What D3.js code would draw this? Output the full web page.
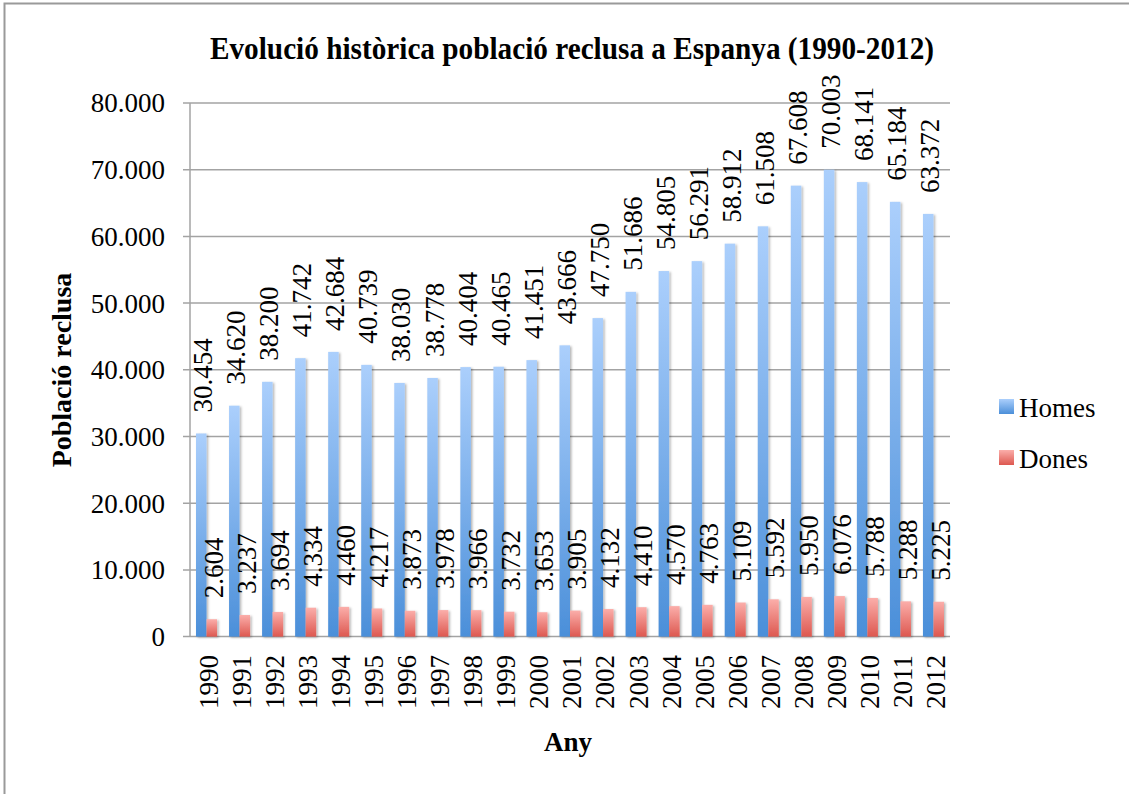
<!DOCTYPE html>
<html>
<head>
<meta charset="utf-8">
<script src="https://cdn.jsdelivr.net/npm/d3@7"></script>
<style>
  body { margin: 0; background: #fff; }
  svg { display: block; }
  text { font-family: "Liberation Serif", "Times New Roman", serif; fill: #000; }
</style>
</head>
<body>
<svg id="chart" width="1129" height="794"></svg>
<script>
// years on the x axis
var years = ["1990","1991","1992","1993","1994","1995","1996","1997","1998","1999","2000",
  "2001","2002","2003","2004","2005","2006","2007","2008","2009","2010","2011","2012"];

// men in prison
var homes = [30454, 34620, 38200, 41742, 42684, 40739, 38030, 38778, 40404, 40465, 41451,
  43666, 47750, 51686, 54805, 56291, 58912, 61508, 67608, 70003, 68141, 65184, 63372];

// women in prison
var dones = [2604, 3237, 3694, 4334, 4460, 4217, 3873, 3978, 3966, 3732, 3653,
  3905, 4132, 4410, 4570, 4763, 5109, 5592, 5950, 6076, 5788, 5288, 5225];

var series = ["Homes", "Dones"];
var yTicks = [0, 10000, 20000, 30000, 40000, 50000, 60000, 70000, 80000];

var svg = d3.select("#chart");

// number format with dots for thousands
var fmt = d3.formatLocale({decimal: ",", thousands: ".", grouping: [3], currency: ["", ""]}).format(",d");

var plotLeft = 190, plotRight = 950, plotTop = 103, plotBottom = 636.6;

var x = d3.scaleBand().domain(years).range([plotLeft, plotRight]);
var xs = d3.scaleBand().domain(series).range([0, x.bandwidth()]).paddingOuter(0.57);
var y = d3.scaleLinear().domain([0, 80000]).range([plotBottom, plotTop]);

// gradients + shadow
var defs = svg.append("defs");
function grad(id, c1, c2) {
  var g = defs.append("linearGradient").attr("id", id)
    .attr("x1", 0).attr("y1", 0).attr("x2", 0).attr("y2", 1);
  g.append("stop").attr("offset", "0%").attr("stop-color", c1);
  g.append("stop").attr("offset", "100%").attr("stop-color", c2);
}
grad("gHomes", "#abcffc", "#4b8fd9");
grad("gDones", "#fbaeaa", "#dd5850");
defs.append("filter").attr("id", "shadow").attr("x", "-50%").attr("y", "-10%").attr("width", "200%").attr("height", "120%")
  .append("feDropShadow").attr("dx", 1.5).attr("dy", 1).attr("stdDeviation", 1.2)
  .attr("flood-color", "#000").attr("flood-opacity", 0.3);

// outer frame
svg.append("path").attr("d", "M4.5,794V3.5H1129")
  .attr("fill", "none").attr("stroke", "#9a9a9a").attr("stroke-width", 2);

// gridlines
svg.append("g").selectAll("line")
  .data(yTicks)
  .enter()
  .append("line")
    .attr("x1", plotLeft - 7).attr("x2", plotRight)
    .attr("y1", function(d){ return y(d) }).attr("y2", function(d){ return y(d) })
    .attr("stroke", "#a3a3a3").attr("stroke-width", 1.5);

// y axis line
svg.append("line").attr("x1", plotLeft).attr("x2", plotLeft).attr("y1", plotTop).attr("y2", plotBottom)
  .attr("stroke", "#a3a3a3").attr("stroke-width", 1.5);

// y tick labels
svg.append("g").selectAll("text")
  .data(yTicks)
  .enter()
  .append("text")
    .attr("x", 165)
    .attr("y", function(d){ return y(d) })
    .attr("dy", "0.35em")
    .attr("text-anchor", "end")
    .style("font-size", "27px")
    .text(function(d){ return fmt(d) });

// bars
var rows = years.map(function(yr, i){ return {year: yr, Homes: homes[i], Dones: dones[i]} });

var groups = svg.append("g").selectAll("g")
  .data(rows)
  .enter()
  .append("g")
    .attr("transform", function(d){ return "translate(" + x(d.year) + ",0)" });

groups.selectAll("rect")
  .data(function(d){ return series.map(function(s){ return {key: s, value: d[s]} }) })
  .enter()
  .append("rect")
    .attr("x", function(d){ return xs(d.key) })
    .attr("width", xs.bandwidth())
    .attr("y", function(d){ return y(d.value) })
    .attr("height", function(d){ return plotBottom - y(d.value) })
    .attr("fill", function(d){ return d.key == "Homes" ? "url(#gHomes)" : "url(#gDones)" })
    .attr("filter", "url(#shadow)");

// value labels above the bars, rotated
groups.selectAll("text")
  .data(function(d){ return series.map(function(s){ return {key: s, value: d[s]} }) })
  .enter()
  .append("text")
    .attr("transform", function(d){
      var cx = xs(d.key) + xs.bandwidth() / 2 + 1.5;
      return "translate(" + cx + "," + (y(d.value) - 21) + ") rotate(-90)";
    })
    .attr("dy", "0.35em")
    .attr("text-anchor", "start")
    .style("font-size", "27px")
    .text(function(d){ return fmt(d.value) });

// x tick labels
svg.append("g").selectAll("text")
  .data(years)
  .enter()
  .append("text")
    .attr("transform", function(d){ return "translate(" + (x(d) + x.bandwidth() / 2 + 2) + ",655) rotate(-90)" })
    .attr("dy", "0.35em")
    .attr("text-anchor", "end")
    .style("font-size", "27px")
    .text(function(d){ return d });

// title (condensed look of the original)
svg.append("text")
  .attr("x", 572).attr("y", 59)
  .attr("text-anchor", "middle")
  .style("font-size", "32px").style("font-weight", "bold")
  .attr("textLength", 724).attr("lengthAdjust", "spacingAndGlyphs")
  .text("Evolució històrica població reclusa a Espanya (1990-2012)");

// axis titles
svg.append("text")
  .attr("transform", "translate(71,370) rotate(-90)")
  .attr("text-anchor", "middle")
  .style("font-size", "28px").style("font-weight", "bold")
  .text("Població reclusa");

svg.append("text")
  .attr("x", 568).attr("y", 751)
  .attr("text-anchor", "middle")
  .style("font-size", "27px").style("font-weight", "bold")
  .text("Any");

// legend
var legend = svg.append("g").selectAll("g")
  .data(series)
  .enter()
  .append("g")
    .attr("transform", function(d, i){ return "translate(999," + (399 + i * 51) + ")" });

legend.append("rect")
  .attr("width", 15).attr("height", 15)
  .attr("fill", function(d){ return d == "Homes" ? "url(#gHomes)" : "url(#gDones)" });

legend.append("text")
  .attr("x", 20).attr("y", 18)
  .style("font-size", "27px")
  .text(function(d){ return d });
</script>
</body>
</html>
